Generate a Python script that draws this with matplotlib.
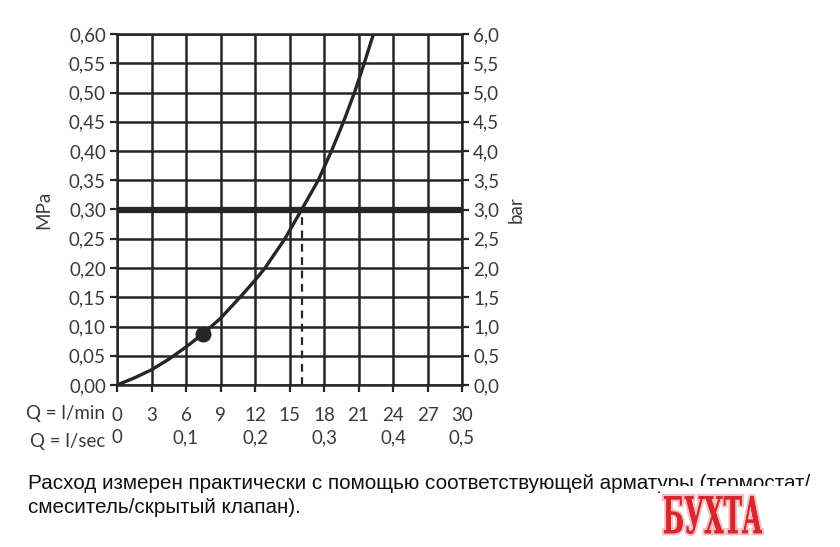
import matplotlib
matplotlib.use("Agg")
import matplotlib.pyplot as plt
import matplotlib.patheffects as pe
from matplotlib.patches import Rectangle, PathPatch
from matplotlib.textpath import TextPath
from matplotlib.font_manager import FontProperties
from matplotlib.transforms import Affine2D

# flow rate (l/min) vs. pressure (MPa)
flow_lpm = [0, 1.5, 3, 4.5, 6, 7.45, 9, 10.7, 12, 12.87, 14.6,
            16.06, 17.5, 18.65, 19.7, 20.65, 21.5, 22.3]
pressure_mpa = [0, 0.012, 0.026, 0.044, 0.065, 0.087, 0.114, 0.15, 0.179,
                0.20, 0.25, 0.30, 0.35, 0.40, 0.45, 0.50, 0.55, 0.60]

# marked point and working pressure
dot_q, dot_p = 7.45, 0.087
ref_pressure = 0.30
ref_flow = 16.1

mpa_ticks = [i * 0.05 for i in range(13)]
mpa_labels = ["0,00", "0,05", "0,10", "0,15", "0,20", "0,25", "0,30",
              "0,35", "0,40", "0,45", "0,50", "0,55", "0,60"]
bar_ticks = [i * 0.5 for i in range(13)]
bar_labels = ["0,0", "0,5", "1,0", "1,5", "2,0", "2,5", "3,0",
              "3,5", "4,0", "4,5", "5,0", "5,5", "6,0"]
lpm_ticks = list(range(0, 31, 3))
lpm_labels = [str(v) for v in lpm_ticks]
lps_ticks = [0, 0.1, 0.2, 0.3, 0.4, 0.5]
lps_labels = ["0", "0,1", "0,2", "0,3", "0,4", "0,5"]

caption = ("Расход измерен практически с помощью соответствующей арматуры (термостат/\n"
           "смеситель/скрытый клапан).")
logo = "БУХТА"

ink = "#262626"
txt = "#3a3a3a"
font = ["Lato", "DejaVu Sans"]
fs = 13.5

fig = plt.figure(figsize=(8.4, 5.47), dpi=100)
ax = fig.add_axes([117 / 840, 1 - 385 / 547, (462 - 117) / 840, (385 - 34) / 547])

ax.set_xlim(0, 30)
ax.set_ylim(0, 0.6)
ax.set_xticks(lpm_ticks)
ax.set_xticklabels(lpm_labels, family=font, fontsize=fs, color=txt)
ax.set_yticks(mpa_ticks)
ax.set_yticklabels(mpa_labels, family=font, fontsize=fs, color=txt)
ax.grid(True, color=ink, linewidth=1.8)
ax.set_axisbelow(True)
for s in ax.spines.values():
    s.set_color(ink)
    s.set_linewidth(1.8)
ax.tick_params(axis="both", direction="out", length=5, width=1.6, color=ink, pad=3)
ax.tick_params(axis="x", pad=11)

ax.set_ylabel("MPa", family=font, fontsize=fs, color=txt, labelpad=12)

# working pressure line + dashed drop
ax.axhline(ref_pressure, color=ink, linewidth=4.5, zorder=3)
ax.plot([ref_flow, ref_flow], [0, ref_pressure], color=ink, linewidth=1.6,
        linestyle=(0, (3.5, 2.5)), zorder=3)

ax.plot(flow_lpm, pressure_mpa, color=ink, linewidth=2.4, zorder=4,
        solid_joinstyle="round")
ax.plot([dot_q], [dot_p], "o", color=ink, markersize=10.5, zorder=5)

# bar on the right
ax2 = ax.twinx()
ax2.set_ylim(0, 6)
ax2.set_yticks(bar_ticks)
ax2.set_yticklabels(bar_labels, family=font, fontsize=fs, color=txt)
ax2.tick_params(axis="y", direction="out", length=5, width=1.6, color=ink, pad=3)
for s in ax2.spines.values():
    s.set_visible(False)
ax2.set_ylabel("bar", family=font, fontsize=fs, color=txt, labelpad=6)

# second row: l/sec
sec = ax.secondary_xaxis(-0.125, functions=(lambda q: q / 60, lambda s: s * 60))
sec.set_xticks(lps_ticks)
sec.set_xticklabels(lps_labels, family=font, fontsize=fs, color=txt)
sec.tick_params(length=0, pad=0)
sec.spines["bottom"].set_visible(False)

ax.text(-0.035, -0.08, "Q = l/min", transform=ax.transAxes, ha="right",
        va="center", family=font, fontsize=fs, color=txt)
ax.text(-0.035, -0.16, "Q = l/sec", transform=ax.transAxes, ha="right",
        va="center", family=font, fontsize=fs, color=txt)

fig.text(28 / 840, 1 - 474 / 547, caption, ha="left", va="top",
         family=["Liberation Sans", "DejaVu Sans"], fontsize=14.9,
         color="#111111", linespacing=1.35)

# watermark: white patch over the caption, then a squeezed red logo
fig.patches.append(Rectangle((660 / 840, 1 - 542 / 547), 160 / 840, 56 / 547,
                             transform=fig.transFigure, facecolor="white",
                             edgecolor="none", zorder=5))
tp = TextPath((0, 0), logo, size=1,
              prop=FontProperties(family="DejaVu Serif", weight="bold"))
bb = tp.get_extents()
to_px = (Affine2D().translate(-bb.x0, -bb.y0)
         .scale(98 / bb.width, 38 / bb.height)
         .translate(664, 547 - 534)
         .scale(1 / 840, 1 / 547))
logo_patch = PathPatch(tp, transform=to_px + fig.transFigure,
                       facecolor="#d7262e", edgecolor="none", zorder=6)
logo_patch.set_path_effects([pe.withStroke(linewidth=3, foreground="#f4bcbf"),
                             pe.Normal()])
fig.add_artist(logo_patch)

fig.savefig("out.png", dpi=100)
